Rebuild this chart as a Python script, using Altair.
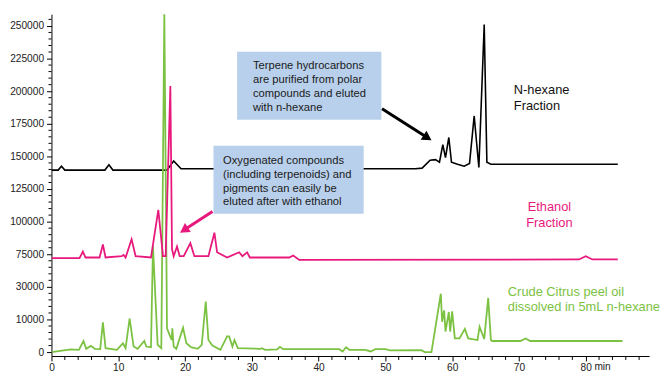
import altair as alt
import pandas as pd

# ---------------- data ----------------
# N-hexane fraction (black trace), intensity values on the upper scale
hex_t = [0, 1.0, 1.5, 2.0, 8.0, 8.6, 9.2, 17.3, 18.3, 19.4, 54.5, 55.5, 56.7, 57.5, 58.1, 58.6,
         59.0, 59.5, 59.9, 60.8, 61.8, 62.6, 63.3, 64.0, 64.8, 65.2, 65.8, 84.8]
hex_v = [139500, 139500, 142500, 139500, 139500, 143500, 139500, 139500, 146500, 140500, 140500,
         141000, 147000, 147500, 145500, 159000, 149000, 164500, 145500, 144000, 142500, 144500,
         181000, 141500, 251000, 145500, 144000, 144000]

# Ethanol fraction (pink trace)
eth_t = [0, 4.2, 4.7, 5.1, 7.2, 7.7, 8.1, 10.5, 10.8, 11.1, 12.0, 12.6, 14.9, 16.0, 16.7, 17.1,
         17.8, 18.05, 18.3, 18.8, 19.2, 19.8, 20.8, 21.4, 23.5, 24.4, 24.8, 26.3, 28.1, 28.6, 29.3,
         29.7, 35.6, 36.2, 37.1, 79.0, 80.0, 81.0, 84.8]
eth_v = [72000, 72000, 77000, 72500, 72500, 82500, 72500, 73500, 74500, 72500, 86500, 73500,
         72500, 109000, 73500, 73500, 204000, 79000, 73500, 81000, 73500, 73500, 83500, 73500,
         73500, 91500, 76500, 72500, 76500, 73500, 76500, 72500, 72500, 74000, 70700, 71000,
         73500, 71000, 71000]

# Crude citrus peel oil (green trace), intensity values on the lower scale
crude_t = [0, 2.9, 4.1, 4.8, 5.2, 5.9, 6.5, 7.3, 7.7, 8.1,
           9.8, 10.7, 11.1, 11.7, 12.3, 12.9, 13.9, 14.2, 14.9, 15.2,
           15.9, 16.45, 16.9, 17.3, 17.7, 18.0, 18.1, 18.3, 18.7, 19.7,
           20.2, 20.9, 21.9, 22.5, 23.1, 23.5, 24.1, 25.3, 26.3, 26.6,
           27.1, 27.4, 27.9, 31.3, 31.5, 32.0, 33.8, 34.2, 34.7, 43.1,
           43.6, 44.1, 44.6, 47.0, 47.8, 48.5, 50.0, 50.7, 55.4, 55.9,
           56.9, 58.3, 58.5, 58.8, 59.0, 59.5, 59.7, 60.0, 60.4, 61.1,
           61.9, 62.4, 63.8, 64.1, 64.8, 65.4, 65.8, 66.0, 70.2, 71.0,
           71.7, 85.5]
crude_v = [0, 800, 700, 3400, 1000, 1900, 1000, 900, 9100, 1200,
           700, 2700, 1200, 10300, 1700, 1000, 3400, 1700, 1500, 32500,
           2200, 1200, 104000, 7300, 5200, 3700, 7300, 1700, 1000, 7500,
           2700, 1500, 1000, 2200, 15500, 3700, 2000, 700, 4800, 4800,
           1700, 3700, 1200, 1000, 1200, 700, 800, 1600, 900, 900,
           200, 1500, 700, 700, 200, 900, 900, 500, 600, 0,
           0, 17900, 9300, 12800, 6300, 12300, 6300, 12500, 4200, 4200,
           7100, 4200, 3700, 7800, 4000, 16600, 3700, 3400, 3400, 4200,
           3400, 3400]

# axis tick labels (one label per major tick of the stacked axis)
y_labels = ["0", "10000", "30000", "75000", "100000", "125000", "150000",
            "175000", "200000", "225000", "250000"]
x_labels = ["0", "10", "20", "30", "40", "50", "60", "70", "80"]
x_unit = "min"

# annotation texts
box1_lines = ["Terpene hydrocarbons", "are purified from polar", "compounds and eluted", "with n-hexane"]
box2_lines = ["Oxygenated compounds", "(including terpenoids) and", "pigments can easily be", "eluted after with ethanol"]
hex_label = ["N-hexane", "Fraction"]
eth_label = ["Ethanol", "Fraction"]
crude_label = ["Crude Citrus peel oil", "dissolved in 5mL n-hexane"]

BLACK = "#000000"
PINK = "#e8197d"
GREEN = "#7cc242"
BOX = "#b8d0eb"
FONT = "Liberation Sans"
LABEL_COLOR = "#222222"

# stacked axis: each major tick is one position unit
def upper_pos(v):   # scale used by the fractions (75000 at tick 3, 25000 per tick)
    return 3 + (v - 75000) / 25000.0

def lower_pos(v):   # scale used by the crude oil (10000 per tick)
    return v / 10000.0

hex_df = pd.DataFrame({"t": hex_t, "u": [upper_pos(v) for v in hex_v]})
eth_df = pd.DataFrame({"t": eth_t, "u": [upper_pos(v) for v in eth_v]})
crude_df = pd.DataFrame({"t": crude_t, "u": [lower_pos(v) for v in crude_v]})

XMAX = 89.5
YMIN, YMAX = -0.12, 10.36
PX_PER_U = 346 / (YMAX - YMIN)
xs = alt.Scale(domain=[0, XMAX], nice=False, zero=False)
ys = alt.Scale(domain=[YMIN, YMAX], nice=False, zero=False)

x_major = list(range(0, 81, 10))
y_major = list(range(0, 11))
x_minor = [v for v in range(0, 89, 2) if v % 10 != 0]
y_minor = [round(i * 0.2, 1) for i in range(0, 52) if i % 5 != 0]

x_lab_js = "[" + ",".join("'%s'" % s for s in x_labels) + "]"
y_lab_js = "[" + ",".join("'%s'" % s for s in y_labels) + "]"

x_axis = alt.Axis(
    values=x_major, title=None, grid=False,
    labelExpr=x_lab_js + "[round(datum.value / 10)]",
    tickSize=5, labelFont=FONT, labelFontSize=10.3, labelColor=LABEL_COLOR, labelPadding=2,
    domainColor=BLACK, tickColor=BLACK, domainWidth=1, tickWidth=1, labelFlush=False,
    labelOverlap=False,
)
y_axis = alt.Axis(
    values=y_major, title=None, grid=False,
    labelExpr=y_lab_js + "[round(datum.value)]",
    tickSize=5, labelFont=FONT, labelFontSize=10.3, labelColor=LABEL_COLOR, labelPadding=3,
    domainColor=BLACK, tickColor=BLACK, domainWidth=1, tickWidth=1, labelFlush=False,
    labelOverlap=False,
)

def X(field):
    return alt.X(field, scale=xs, axis=x_axis)

def Y(field):
    return alt.Y(field, scale=ys, axis=y_axis)

black_line = alt.Chart(hex_df).mark_line(color=BLACK, strokeWidth=1.6, clip=True).encode(
    x=X("t:Q"), y=Y("u:Q"), order="t:Q")
green_line = alt.Chart(crude_df).mark_line(color=GREEN, strokeWidth=1.8, clip=True).encode(
    x=X("t:Q"), y=Y("u:Q"), order="t:Q")
pink_line = alt.Chart(eth_df).mark_line(color=PINK, strokeWidth=1.8, clip=True).encode(
    x=X("t:Q"), y=Y("u:Q"), order="t:Q")

# minor ticks
y_minor_ticks = alt.Chart(pd.DataFrame({"u": y_minor})).mark_rule(color=BLACK, strokeWidth=1).encode(
    y=Y("u:Q"), x=alt.value(0), x2=alt.value(-3))
x_minor_ticks = alt.Chart(pd.DataFrame({"t": x_minor})).mark_rule(color=BLACK, strokeWidth=1).encode(
    x=X("t:Q"), y=alt.value(346), y2=alt.value(350))
unit_text = alt.Chart(pd.DataFrame({"t": [81.3], "u": [YMIN - 6.5 / PX_PER_U], "txt": [x_unit]})).mark_text(
    align="left", baseline="top", font=FONT, fontSize=10.3, color=LABEL_COLOR).encode(
    x=X("t:Q"), y=Y("u:Q"), text="txt:N")

# annotation boxes (data coordinates: minutes, axis positions)
boxes_df = pd.DataFrame({
    "x1": [27.8, 24.26], "x2": [49.4, 46.75],
    "y1": [7.12, 4.24], "y2": [9.21, 6.33],
})
boxes = alt.Chart(boxes_df).mark_rect(color=BOX).encode(
    x=X("x1:Q"), x2="x2:Q", y=Y("y1:Q"), y2="y2:Q")

LINE_U = 14 / PX_PER_U
box_text_rows = []
for i, s in enumerate(box1_lines):
    box_text_rows.append({"t": 30.18, "u": 8.77 - i * LINE_U, "txt": s})
for i, s in enumerate(box2_lines):
    box_text_rows.append({"t": 25.7, "u": 5.86 - i * LINE_U, "txt": s})
box_text = alt.Chart(pd.DataFrame(box_text_rows)).mark_text(
    align="left", baseline="middle", font=FONT, fontSize=11.3, color="#1a1a1a"
).encode(x=X("t:Q"), y=Y("u:Q"), text="txt:N")

# arrows
arrow_df = pd.DataFrame({
    "t1": [49.5, 24.11], "u1": [7.46, 4.31],
    "t2": [56.31, 19.84], "u2": [6.57, 3.74],
    "col": ["k", "p"], "ang": [32.7, 147.0],
})
arrow_cols = alt.Scale(domain=["k", "p"], range=[BLACK, PINK])
arrow_lines = alt.Chart(arrow_df).mark_rule(strokeWidth=3).encode(
    x=X("t1:Q"), x2="t2:Q", y=Y("u1:Q"), y2="u2:Q",
    color=alt.Color("col:N", scale=arrow_cols, legend=None))
arrow_heads = alt.Chart(arrow_df).mark_point(shape="triangle-right", filled=True, size=120, opacity=1).encode(
    x=X("t2:Q"), y=Y("u2:Q"),
    angle=alt.Angle("ang:Q", scale=None),
    color=alt.Color("col:N", scale=arrow_cols, legend=None))

# series labels
lab_rows = []
for i, s in enumerate(hex_label):
    lab_rows.append({"t": 69.23, "u": 8.02 - i * 16 / PX_PER_U, "txt": s, "c": "k", "a": "l"})
for i, s in enumerate(eth_label):
    lab_rows.append({"t": 74.56, "u": 4.45 - i * 16 / PX_PER_U, "txt": s, "c": "p", "a": "c"})
for i, s in enumerate(crude_label):
    lab_rows.append({"t": 68.34, "u": 1.84 - i * 15 / PX_PER_U, "txt": s, "c": "g", "a": "l"})
lab_df = pd.DataFrame(lab_rows)
lab_cols = alt.Scale(domain=["k", "p", "g"], range=["#111111", PINK, GREEN])
labels_left = alt.Chart(lab_df[lab_df.a == "l"]).mark_text(
    align="left", baseline="middle", font=FONT, fontSize=13).encode(
    x=X("t:Q"), y=Y("u:Q"), text="txt:N",
    color=alt.Color("c:N", scale=lab_cols, legend=None))
labels_center = alt.Chart(lab_df[lab_df.a == "c"]).mark_text(
    align="center", baseline="middle", font=FONT, fontSize=13).encode(
    x=X("t:Q"), y=Y("u:Q"), text="txt:N",
    color=alt.Color("c:N", scale=lab_cols, legend=None))

chart = alt.layer(
    black_line, green_line, pink_line, y_minor_ticks, x_minor_ticks, unit_text,
    boxes, box_text, arrow_lines, arrow_heads, labels_left, labels_center,
).resolve_scale(color="independent").properties(
    width=605, height=346, background="white",
    autosize=alt.AutoSizeParams(type="none"),
    padding={"left": 44, "top": 4, "right": 13, "bottom": 20},
).configure_view(stroke=None)

chart.save("out.html", embed_options={"renderer": "svg", "actions": False})
